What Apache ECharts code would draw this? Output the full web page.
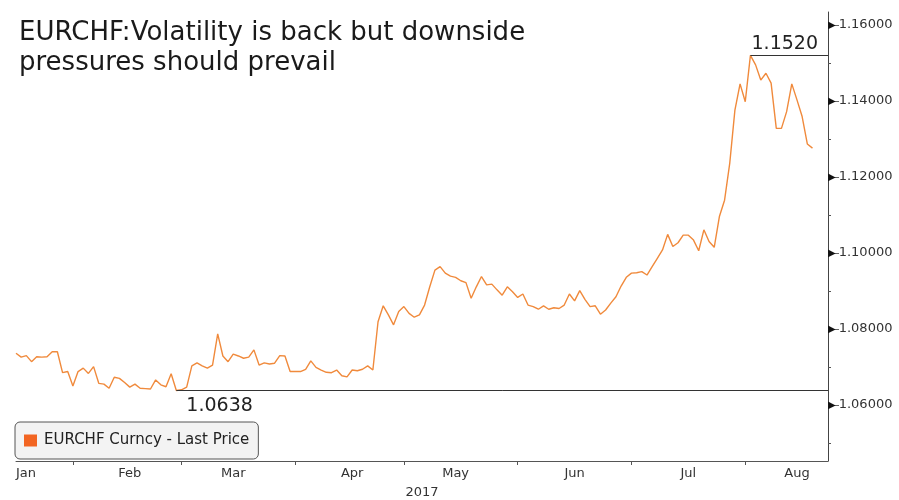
<!DOCTYPE html>
<html>
<head>
<meta charset="utf-8">
<script src="https://cdn.jsdelivr.net/npm/echarts@6/dist/echarts.min.js"></script>
<style>
  html, body { margin: 0; padding: 0; background: #fff; }
  #chart { width: 899px; height: 500px; }
</style>
</head>
<body>
<div id="chart"></div>
<script>
const titleText = 'EURCHF:Volatility is back but downside\npressures should prevail';
const seriesName = 'EURCHF Curncy - Last Price';
const yearLabel = '2017';
const monthNames = ['Jan', 'Feb', 'Mar', 'Apr', 'May', 'Jun', 'Jul', 'Aug', 'Sep', 'Oct', 'Nov', 'Dec'];
const startDate = '2017-01-02';
const emptyDaysAtEnd = 3;

// daily close
const prices = [
  1.0736, 1.0726, 1.0730, 1.0714, 1.0727, 1.0726, 1.0727, 1.0740, 1.0740, 1.0685,
  1.0688, 1.0650, 1.0688, 1.0697, 1.0683, 1.0701, 1.0657, 1.0655, 1.0644, 1.0673,
  1.0670, 1.0659, 1.0647, 1.0655, 1.0644, 1.0643, 1.0642, 1.0666, 1.0653, 1.0648,
  1.0682, 1.0638, 1.0640, 1.0647, 1.0703, 1.0711, 1.0703, 1.0697, 1.0705, 1.0787,
  1.0729, 1.0714, 1.0734, 1.0729, 1.0723, 1.0726, 1.0745, 1.0705, 1.0711, 1.0708,
  1.0710, 1.0730, 1.0729, 1.0688, 1.0688, 1.0688, 1.0694, 1.0716, 1.0699, 1.0692,
  1.0686, 1.0685, 1.0692, 1.0677, 1.0674, 1.0692, 1.0690, 1.0694, 1.0703, 1.0692,
  1.0819, 1.0861, 1.0837, 1.0811, 1.0846, 1.0859,
  1.0841, 1.0831, 1.0837, 1.0863, 1.0911, 1.0955, 1.0964, 1.0947, 1.0939, 1.0936,
  1.0927, 1.0922, 1.0881, 1.0911, 1.0938, 1.0916, 1.0918, 1.0903, 1.0889, 1.0911,
  1.0898, 1.0883, 1.0892, 1.0863, 1.0859, 1.0852, 1.0861, 1.0852, 1.0856, 1.0854,
  1.0863, 1.0892, 1.0874, 1.0901, 1.0878, 1.0859, 1.0861, 1.0839, 1.0850, 1.0868,
  1.0885, 1.0913, 1.0936, 1.0947, 1.0948, 1.0951, 1.0942, 1.0964, 1.0986, 1.1008,
  1.1049, 1.1017, 1.1027, 1.1047, 1.1047, 1.1034, 1.1006, 1.1061, 1.1030, 1.1015,
  1.1096, 1.1139, 1.1236, 1.1376, 1.1445, 1.1398, 1.1520, 1.1495, 1.1455, 1.1473,
  1.1447, 1.1328, 1.1328, 1.1372, 1.1445, 1.1403, 1.1359, 1.1287, 1.1276
];

const highText = '1.1520';
const lowText = '1.0638';
const yMajorValues = [1.06, 1.08, 1.10, 1.12, 1.14, 1.16];
const yMinorValues = [1.05, 1.07, 1.09, 1.11, 1.13, 1.15];
const yMin = 1.04526;
const yMax = 1.16342;

// business days for the category axis
const dates = [];
const day = new Date(startDate + 'T00:00:00Z');
while (dates.length < prices.length + emptyDaysAtEnd) {
  const wd = day.getUTCDay();
  if (wd !== 0 && wd !== 6) dates.push(day.toISOString().slice(0, 10));
  day.setUTCDate(day.getUTCDate() + 1);
}
const labelIdx = [];
dates.forEach((d, i) => {
  if (i === 0 || d.slice(5, 7) !== dates[i - 1].slice(5, 7)) labelIdx.push(i);
});
const tickIdx = labelIdx.slice(1).map((v, k) => Math.round((labelIdx[k] + v) / 2));

const peakIdx = prices.indexOf(Math.max(...prices));
const lowIdx = prices.indexOf(Math.min(...prices));
const lastIdx = dates.length - 1;

const font = 'DejaVu Sans';
const chart = echarts.init(document.getElementById('chart'), null, { renderer: 'canvas' });

chart.setOption({
  animation: false,
  backgroundColor: '#fff',
  title: {
    text: titleText,
    left: 19,
    top: 18,
    padding: 0,
    textStyle: { fontFamily: font, fontSize: 26, fontWeight: 'normal', color: '#1a1a1a', lineHeight: 30 }
  },
  legend: {
    data: [seriesName],
    left: 15,
    top: 422,
    icon: 'rect',
    itemWidth: 13,
    itemHeight: 12,
    padding: [11, 9, 11, 9],
    backgroundColor: '#f3f3f3',
    borderColor: '#555',
    borderWidth: 1,
    borderRadius: 5,
    textStyle: { fontFamily: font, fontSize: 15, color: '#222', padding: [0, 0, 0, 2] }
  },
  grid: { left: 16, right: 71, top: 12, bottom: 39, outerBoundsMode: 'none' },
  xAxis: {
    type: 'category',
    data: dates,
    boundaryGap: false,
    axisLine: { lineStyle: { color: '#555', width: 1 } },
    axisTick: {
      show: true,
      interval: (i) => tickIdx.includes(i),
      length: 4,
      lineStyle: { color: '#555' }
    },
    axisLabel: {
      interval: (i) => labelIdx.includes(i),
      formatter: (v) => monthNames[+v.slice(5, 7) - 1],
      alignMinLabel: 'left',
      fontFamily: font,
      fontSize: 13,
      color: '#333',
      margin: 6
    },
    name: yearLabel,
    nameLocation: 'middle',
    nameGap: 25,
    nameTextStyle: { fontFamily: font, fontSize: 13, color: '#333' }
  },
  yAxis: [
    {
      type: 'value',
      position: 'right',
      min: yMin,
      max: yMax,
      splitLine: { show: false },
      axisLine: { show: true, lineStyle: { color: '#444' } },
      axisTick: { show: true, customValues: yMajorValues, length: 11, lineStyle: { color: '#666' } },
      axisLabel: {
        customValues: yMajorValues,
        margin: 0,
        formatter: (v) => '{t|\u25B6}{v|' + v.toFixed(5) + '}',
        rich: {
          t: { fontSize: 10, color: '#111', fontFamily: font },
          v: { fontSize: 13, color: '#333', fontFamily: font, padding: [0, 0, 0, 3] }
        }
      }
    },
    {
      type: 'value',
      position: 'right',
      min: yMin,
      max: yMax,
      splitLine: { show: false },
      axisLine: { show: false },
      axisTick: { show: true, customValues: yMinorValues, length: 3, lineStyle: { color: '#555' } },
      axisLabel: { show: false }
    }
  ],
  series: [
    {
      name: seriesName,
      type: 'line',
      data: prices,
      symbol: 'none',
      yAxisIndex: 0,
      lineStyle: { color: '#f08a3c', width: 1.4 },
      itemStyle: { color: '#f26522' },
      markLine: {
        silent: true,
        symbol: 'none',
        animation: false,
        lineStyle: { color: '#333', width: 1, type: 'solid' },
        label: { fontFamily: font, fontSize: 19, color: '#222' },
        data: [
          [
            { coord: [dates[peakIdx], prices[peakIdx]], label: { formatter: highText, position: 'insideEndTop', distance: [10, 2] } },
            { coord: [dates[lastIdx], prices[peakIdx]] }
          ],
          [
            { coord: [dates[lowIdx], prices[lowIdx]], label: { formatter: lowText, position: 'insideStartBottom', distance: [10, 6] } },
            { coord: [dates[lastIdx], prices[lowIdx]] }
          ]
        ]
      }
    }
  ]
});
</script>
</body>
</html>
